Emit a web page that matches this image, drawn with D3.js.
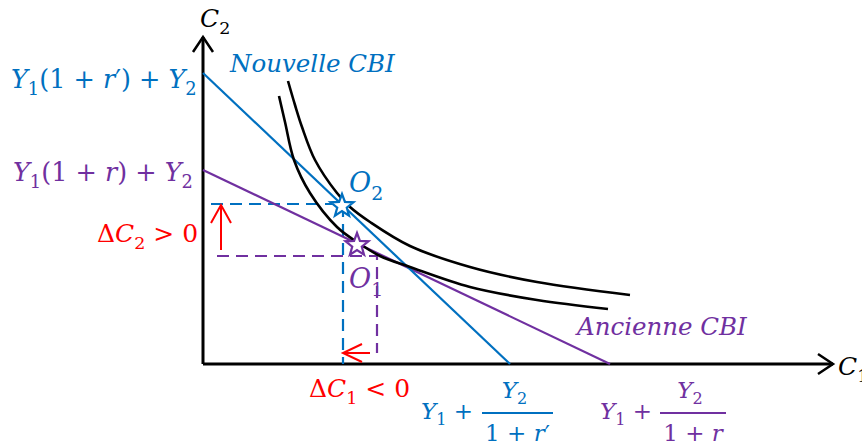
<!DOCTYPE html>
<html>
<head>
<meta charset="utf-8">
<script src="https://cdn.jsdelivr.net/npm/d3@7"></script>
<style>
  body { margin: 0; background: #fff; }
  svg text { font-family: "DejaVu Serif", serif; }
</style>
</head>
<body>
<div id="chart-area"></div>
<script>
// intertemporal choice diagram: two budget lines (CBI) and two indifference curves
var width = 862, height = 441;
var blue = "#0070C0", purple = "#7030A0", red = "#FF0000";

// values (units = pixels from the origin)
var newBudget = [[0, 291], [307, 0]];
var oldBudget = [[0, 194], [407, 0]];
var outerCurve = [[85, 283], [92, 259], [99, 237], [112, 204], [134, 171], [147, 157], [167, 142], [207, 118], [267, 97], [334, 82], [427, 69]];
var innerCurve = [[76, 268], [82, 242], [91, 204], [107, 171], [134, 137], [154, 122], [177, 108], [207, 97], [267, 77], [334, 64], [405, 55]];
var optimumNew = [139, 158];
var optimumOld = [154, 119];
var newGuide = [[8, 160], [140, 160], [140, 0]];
var oldGuide = [[14, 108], [174, 108], [174, 11]];
var deltaC2 = [[18, 114], [18, 159]];
var deltaC1 = [[167, 11], [140, 11]];

var svg = d3.select("#chart-area").append("svg").attr("width", width).attr("height", height);

var x = d3.scaleLinear().domain([0, 630]).range([203, 833]);
var y = d3.scaleLinear().domain([0, 327]).range([364, 37]);

var line = d3.line().x(d => x(d[0])).y(d => y(d[1]));
var smooth = d3.line().x(d => x(d[0])).y(d => y(d[1])).curve(d3.curveCatmullRom.alpha(0.5));

// open chevron arrow head, tip at p, pointing along angle (radians)
function chevron(p, ang, len, half, color, w) {
  var tx = x(p[0]), ty = y(p[1]);
  var bx = tx - len * Math.cos(ang), by = ty - len * Math.sin(ang);
  var nx = -Math.sin(ang) * half, ny = Math.cos(ang) * half;
  svg.append("path")
    .attr("d", "M" + (bx + nx) + "," + (by + ny) + "L" + tx + "," + ty + "L" + (bx - nx) + "," + (by - ny))
    .attr("fill", "none").attr("stroke", color).attr("stroke-width", w);
}

// axes
svg.append("path").attr("d", line([[0, 0], [0, 327]])).attr("stroke", "#000").attr("stroke-width", 3).attr("fill", "none");
svg.append("path").attr("d", line([[0, 0], [630, 0]])).attr("stroke", "#000").attr("stroke-width", 3).attr("fill", "none");
chevron([0, 327], -Math.PI / 2, 15, 10, "#000", 2.5);
chevron([630, 0], 0, 15, 10, "#000", 2.5);

// dashed guides
svg.append("path").attr("d", line(newGuide)).attr("stroke", blue).attr("stroke-width", 2.2)
  .attr("stroke-dasharray", "12,7").attr("fill", "none");
svg.append("path").attr("d", line(oldGuide)).attr("stroke", purple).attr("stroke-width", 2.2)
  .attr("stroke-dasharray", "12,7").attr("fill", "none");

// budget lines
svg.append("path").attr("d", line(oldBudget)).attr("stroke", purple).attr("stroke-width", 2.2).attr("fill", "none");
svg.append("path").attr("d", line(newBudget)).attr("stroke", blue).attr("stroke-width", 2.2).attr("fill", "none");

// indifference curves
[outerCurve, innerCurve].forEach(c => {
  svg.append("path").attr("d", smooth(c)).attr("stroke", "#000").attr("stroke-width", 2.6).attr("fill", "none");
});

// red change arrows
svg.append("path").attr("d", line(deltaC2)).attr("stroke", red).attr("stroke-width", 2).attr("fill", "none");
chevron(deltaC2[1], -Math.PI / 2, 18, 10, red, 2);
svg.append("path").attr("d", line(deltaC1)).attr("stroke", red).attr("stroke-width", 2).attr("fill", "none");
chevron(deltaC1[1], Math.PI, 19, 9, red, 2);

// stars
function star(p, color) {
  var pts = [];
  for (var i = 0; i < 10; i++) {
    var r = i % 2 === 0 ? 12 : 5;
    var a = -Math.PI / 2 + i * Math.PI / 5;
    pts.push([x(p[0]) + r * Math.cos(a), y(p[1]) + r * Math.sin(a)]);
  }
  svg.append("path").attr("d", "M" + pts.join("L") + "Z")
    .attr("fill", "#fff").attr("stroke", color).attr("stroke-width", 2.2);
}
star(optimumNew, blue);
star(optimumOld, purple);

// math-ish labels: segments [text, style] where style: i = italic, s = subscript
function mathText(px, py, segs, size, color, anchor) {
  var t = svg.append("text").attr("x", px).attr("y", py).attr("fill", color)
    .attr("font-size", size).attr("text-anchor", anchor || "start");
  var shift = 0;
  segs.forEach(s => {
    var sp = t.append("tspan").text(s[0]);
    var want = s[1] && s[1].indexOf("s") >= 0 ? size * 0.28 : 0;
    if (want !== shift) { sp.attr("dy", want - shift); shift = want; }
    if (s[1] && s[1].indexOf("i") >= 0) sp.attr("font-style", "italic");
    if (s[1] && s[1].indexOf("s") >= 0) sp.attr("font-size", size * 0.7);
  });
  return t;
}

mathText(200, 27, [["C", "i"], ["2", "s"]], 25, "#000");
mathText(838, 375, [["C", "i"], ["1", "s"]], 25, "#000");

mathText(11, 88, [["Y", "i"], ["1", "s"], ["(1 + "], ["r", "i"], ["′) + "], ["Y", "i"], ["2", "s"]], 25.5, blue);
mathText(13, 181, [["Y", "i"], ["1", "s"], ["(1 + "], ["r", "i"], [") + "], ["Y", "i"], ["2", "s"]], 25.5, purple);

svg.append("text").attr("x", 230).attr("y", 72).attr("font-size", 24.5).attr("font-style", "italic")
  .attr("fill", blue).text("Nouvelle CBI");
svg.append("text").attr("x", 577).attr("y", 335).attr("font-size", 24.5).attr("font-style", "italic")
  .attr("fill", purple).text("Ancienne CBI");

mathText(349, 192, [["O", "i"], ["2", "s"]], 27, blue);
mathText(349, 288, [["O", "i"], ["1", "s"]], 27, purple);

mathText(97, 242, [["Δ"], ["C", "i"], ["2", "s"], [" > 0"]], 25, red);
mathText(309, 397, [["Δ"], ["C", "i"], ["1", "s"], [" < 0"]], 25, red);

// intercept labels on the C1 axis
function fracLabel(x0, barX0, barX1, color, denom) {
  mathText(x0, 419, [["Y", "i"], ["1", "s"], [" +"]], 23, color);
  svg.append("line").attr("x1", barX0).attr("x2", barX1).attr("y1", 413).attr("y2", 413)
    .attr("stroke", color).attr("stroke-width", 2);
  mathText((barX0 + barX1) / 2 - 3, 398, [["Y", "i"], ["2", "s"]], 23, color, "middle");
  mathText((barX0 + barX1) / 2, 441, denom, 23, color, "middle");
}
fracLabel(421, 482, 553, blue, [["1 + "], ["r", "i"], ["′"]]);
fracLabel(600, 660, 726, purple, [["1 + "], ["r", "i"]]);
</script>
</body>
</html>
